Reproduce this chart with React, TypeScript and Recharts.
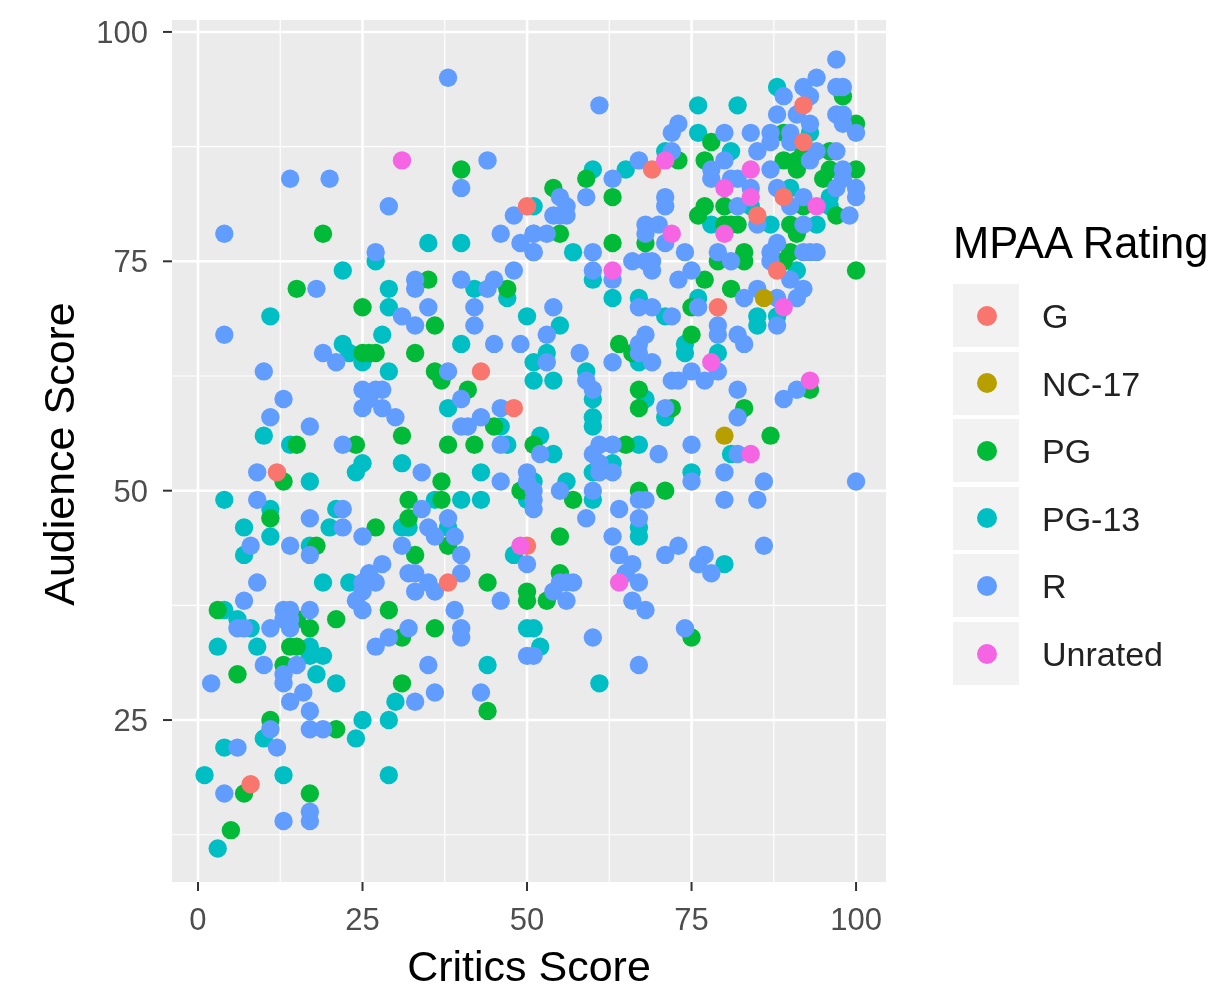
import { ScatterChart, Scatter, CartesianGrid, XAxis, YAxis } from "recharts";

type Pair = number[];

// [critics, audience]
const ratingG: Pair[] = [[50,81],[69,85],[92,92],[92,88],[89,82],[85,80],[88,74],[79,70],[43,63],[48,59],[12,52],[50,44],[38,40],[8,18]];
const ratingNC17: Pair[] = [[86,71],[80,56]];
const ratingUnrated: Pair[] = [[31,86],[71,86],[84,85],[80,83],[84,82],[94,81],[72,78],[80,78],[63,74],[89,70],[78,64],[93,62],[84,54],[49,44],[64,40]];
const ratingPG: Pair[] = [
  [40,85],[19,78],[35,73],[15,72],[47,72],[25,70],[36,68],[25,65],[26,65],[27,65],[33,65],[36,63],[37,62],[41,61],[45,57],
  [24,55],[15,55],[31,56],[38,55],[42,55],[13,51],[37,51],[49,50],[11,47],[32,49],[37,49],[32,47],[27,46],[18,44],[38,44],
  [33,43],[44,40],[50,39],[50,38],[3,37],[15,36],[17,35],[21,36],[29,37],[31,34],[36,35],[14,33],[15,33],[13,31],[6,30],
  [31,29],[44,26],[11,25],[21,24],[7,17],[17,17],[5,13],
  [98,93],[100,90],[78,88],[89,89],[73,86],[77,86],[89,86],[91,86],[91,85],[92,87],[100,85],[96,87],[96,85],[95,84],[59,84],
  [54,83],[63,82],[77,81],[80,81],[92,81],[76,80],[97,80],[80,79],[81,79],[82,79],[90,79],[55,78],[91,78],[63,77],[68,77],
  [83,76],[90,76],[79,75],[83,75],[89,75],[100,74],[77,73],[81,72],[75,70],[64,66],[75,67],[66,65],[65,55],[67,61],[93,61],
  [67,59],[72,59],[83,59],[87,56],[51,55],[67,50],[71,50],[57,49],[55,45],[55,41],[53,38],[75,34],
];
const ratingPG13: Pair[] = [
  [35,77],[40,77],[27,75],[22,74],[42,72],[47,71],[29,72],[29,70],[11,69],[50,69],[28,67],[40,66],[22,66],[23,65],[25,64],
  [29,63],[38,59],[46,57],[10,56],[14,55],[47,55],[25,53],[24,52],[31,53],[43,52],[17,51],[4,49],[11,48],[36,49],[40,49],
  [43,49],[21,48],[7,46],[11,45],[20,46],[31,46],[32,46],[38,46],[17,44],[7,43],[48,43],[19,40],[23,40],[4,37],[6,36],
  [8,35],[50,35],[3,33],[9,33],[17,33],[17,32],[19,32],[18,30],[21,29],[44,31],[30,27],[25,25],[29,25],[10,23],[24,23],
  [4,22],[1,19],[13,19],[29,19],[3,11],[51,62],[50,49],
  [88,94],[76,92],[82,92],[76,89],[93,89],[81,87],[71,87],[65,85],[60,85],[90,83],[96,82],[51,81],[84,81],[96,81],[78,79],
  [87,79],[94,79],[57,76],[60,73],[91,74],[63,71],[76,71],[67,71],[71,69],[85,69],[85,68],[88,69],[55,68],[74,66],[74,65],
  [53,65],[51,64],[67,64],[79,65],[59,63],[54,62],[60,60],[68,60],[71,58],[60,58],[60,57],[52,56],[67,55],[54,54],[81,54],
  [63,53],[60,52],[75,52],[56,51],[51,51],[60,49],[67,46],[67,45],[80,42],[51,35],[52,33],[61,29],
];
const ratingR: Pair[] = [
  [38,95],[44,86],[40,83],[14,84],[20,84],[29,81],[48,80],[4,78],[46,78],[49,77],[51,78],[51,76],[27,76],[48,74],[33,73],
  [33,72],[40,73],[45,73],[44,72],[18,72],[35,70],[42,70],[31,69],[33,68],[42,68],[4,67],[45,66],[49,66],[19,65],[21,64],
  [10,63],[38,63],[40,60],[25,61],[27,61],[28,61],[25,59],[28,59],[30,58],[26,60],[13,60],[11,58],[17,57],[22,55],[43,58],
  [46,59],[40,57],[41,57],[46,55],[34,52],[46,51],[50,52],[9,52],[9,49],[17,47],[22,48],[34,48],[38,47],[22,46],[35,46],
  [36,45],[39,45],[14,44],[8,44],[17,43],[25,45],[31,44],[40,43],[28,42],[26,41],[32,41],[33,41],[27,40],[25,40],[40,41],
  [35,40],[9,40],[50,42],[33,39],[36,39],[25,39],[24,38],[7,38],[46,38],[6,35],[7,35],[13,37],[14,37],[13,36],[14,36],
  [11,35],[14,35],[17,37],[25,37],[39,37],[32,35],[29,34],[40,35],[40,34],[27,33],[10,31],[15,31],[13,30],[13,29],[2,29],
  [35,31],[50,32],[16,28],[14,27],[33,27],[36,28],[43,28],[17,26],[11,24],[17,24],[19,24],[6,22],[12,22],[4,17],[13,14],
  [17,15],[17,14],[50,51],
  [97,97],[92,94],[94,95],[93,93],[89,93],[97,94],[98,94],[61,92],[88,91],[91,91],[97,91],[98,91],[98,90],[100,89],[93,90],
  [73,90],[72,89],[80,89],[84,89],[87,89],[90,89],[87,88],[90,88],[85,87],[94,87],[97,87],[72,87],[67,86],[63,84],[80,86],
  [93,86],[87,85],[98,85],[98,84],[78,85],[78,84],[81,84],[82,84],[84,83],[88,83],[97,83],[100,83],[100,82],[55,82],[59,82],
  [71,82],[92,82],[56,81],[71,81],[82,81],[90,81],[54,80],[55,80],[56,80],[99,80],[85,79],[92,79],[68,79],[70,79],[68,78],
  [51,78],[53,78],[71,77],[88,77],[51,76],[60,76],[74,76],[79,76],[87,76],[92,76],[93,76],[94,76],[66,75],[68,75],[69,75],
  [81,75],[87,75],[60,74],[69,74],[75,74],[63,73],[73,73],[90,73],[92,72],[85,72],[83,71],[88,71],[91,71],[67,70],[69,70],
  [76,70],[72,69],[88,68],[54,70],[79,68],[53,67],[68,67],[79,67],[82,67],[83,66],[67,66],[58,65],[67,65],[53,64],[63,64],
  [69,64],[75,63],[79,63],[72,62],[73,62],[77,62],[59,62],[82,61],[60,61],[91,61],[89,60],[71,59],[82,58],[75,55],[61,55],
  [63,55],[52,54],[60,54],[70,54],[82,54],[61,53],[61,52],[63,52],[80,52],[75,51],[86,51],[100,51],[51,50],[55,50],[60,50],
  [67,49],[68,49],[80,49],[85,49],[51,49],[64,48],[51,48],[59,47],[67,47],[63,45],[86,44],[73,44],[71,43],[64,43],[77,43],
  [66,42],[65,41],[76,42],[78,41],[67,40],[57,40],[56,40],[55,40],[54,39],[56,38],[66,38],[68,37],[74,35],[60,34],[51,32],[67,31],
];

const xTicks = [0, 25, 50, 75, 100];
const yTicks = [25, 50, 75, 100];
const xMinor = [12.5, 37.5, 62.5, 87.5];
const yMinor = [12.5, 37.5, 62.5, 87.5];

const toPoints = (list: Pair[]) => list.map(([critics, audience]) => ({ critics, audience }));

const drawOrder = [
  { name: "PG-13", color: "#00BFC4", list: ratingPG13 },
  { name: "PG", color: "#00BA38", list: ratingPG },
  { name: "R", color: "#619CFF", list: ratingR },
  { name: "G", color: "#F8766D", list: ratingG },
  { name: "NC-17", color: "#B79F00", list: ratingNC17 },
  { name: "Unrated", color: "#F564E3", list: ratingUnrated },
];

const legendItems = [
  { name: "G", color: "#F8766D" },
  { name: "NC-17", color: "#B79F00" },
  { name: "PG", color: "#00BA38" },
  { name: "PG-13", color: "#00BFC4" },
  { name: "R", color: "#619CFF" },
  { name: "Unrated", color: "#F564E3" },
];

const font = "'Liberation Sans', Arial, sans-serif";

const Dot = (props: any) => <circle cx={props.cx} cy={props.cy} r={9.2} fill={props.fill} />;

export default function App() {
  return (
    <div
      style={{
        position: "absolute",
        left: 0,
        top: 0,
        width: 1224,
        height: 991,
        background: "#fff",
        fontFamily: font,
        overflow: "hidden",
        filter: "blur(0.7px)",
      }}
    >
      <ScatterChart
        width={1224}
        height={991}
        margin={{ top: 20, right: 338, bottom: 29, left: 0 }}
      >
        <CartesianGrid
          fill="#EBEBEB"
          stroke="#fff"
          strokeWidth={1.2}
          strokeDasharray="none"
          horizontalValues={yMinor}
          verticalValues={xMinor}
        />
        <CartesianGrid
          stroke="#fff"
          strokeWidth={2.6}
          horizontalValues={yTicks}
          verticalValues={xTicks}
        />
        <XAxis
          type="number"
          dataKey="critics"
          domain={[-3.95, 104.55]}
          ticks={xTicks}
          height={80}
          axisLine={false}
          tickLine={{ stroke: "#333", strokeWidth: 2 }}
          tickSize={9}
          tickMargin={17}
          tick={{ fill: "#4D4D4D", fontSize: 31, fontFamily: font }}
          label={{ value: "Critics Score", position: "insideBottom", offset: -19, fill: "#000", fontSize: 43, fontFamily: font }}
        />
        <YAxis
          type="number"
          dataKey="audience"
          domain={[7.35, 101.3]}
          ticks={yTicks}
          width={172}
          axisLine={false}
          tickLine={{ stroke: "#333", strokeWidth: 2 }}
          tickSize={9}
          tickMargin={15}
          tick={{ fill: "#4D4D4D", fontSize: 31, fontFamily: font }}
          label={{ value: "Audience Score", angle: -90, position: "insideLeft", dx: 54, dy: 3, fill: "#000", fontSize: 43, fontFamily: font, style: { textAnchor: "middle" } }}
        />
        {drawOrder.map((s) => (
          <Scatter
            key={s.name}
            name={s.name}
            data={toPoints(s.list)}
            fill={s.color}
            shape={Dot}
            isAnimationActive={false}
          />
        ))}
      </ScatterChart>

      <div style={{ position: "absolute", left: 953, top: 218, fontSize: 43.5, lineHeight: "50px", whiteSpace: "nowrap" }}>
        MPAA Rating
      </div>
      {legendItems.map((item, i) => (
        <div key={item.name}>
          <div
            style={{
              position: "absolute",
              left: 953,
              top: 284 + i * 67.6,
              width: 66,
              height: 63,
              background: "#F2F2F2",
            }}
          />
          <div
            style={{
              position: "absolute",
              left: 977,
              top: 305.5 + i * 67.6,
              width: 20,
              height: 20,
              borderRadius: 10,
              background: item.color,
            }}
          />
          <div
            style={{
              position: "absolute",
              left: 1042,
              top: 296 + i * 67.6,
              fontSize: 34,
              lineHeight: "40px",
              color: "#222",
              whiteSpace: "nowrap",
            }}
          >
            {item.name}
          </div>
        </div>
      ))}
    </div>
  );
}
